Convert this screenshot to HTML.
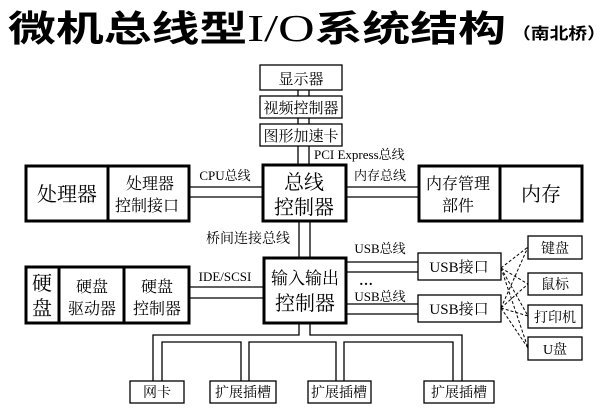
<!DOCTYPE html>
<html><head><meta charset="utf-8"><style>
html,body{margin:0;padding:0;background:#fff;}
svg{display:block;}
.t{font-family:"Liberation Serif","Noto Serif CJK SC",serif;fill:#000;}
</style></head><body>
<svg width="608" height="416" viewBox="0 0 608 416" xmlns="http://www.w3.org/2000/svg">
<text x="8" y="41" font-family="Liberation Serif,'Noto Sans CJK SC',sans-serif" font-size="36" font-weight="bold" textLength="498" lengthAdjust="spacingAndGlyphs">微机总线型<tspan font-weight="normal" font-size="38">I/O</tspan>系统结构</text>
<text x="512" y="39" font-family="Liberation Serif,'Noto Sans CJK SC',sans-serif" font-size="16" font-weight="bold" textLength="94" lengthAdjust="spacingAndGlyphs">（南北桥）</text>

<g fill="none" stroke="#000" stroke-width="1.3">
<rect x="260" y="65" width="82" height="25"/>
<rect x="260" y="96" width="82" height="22"/>
<rect x="260" y="124" width="82" height="22"/>
<line x1="298" y1="90" x2="298" y2="96"/><line x1="309" y1="90" x2="309" y2="96"/>
<line x1="298" y1="118" x2="298" y2="124"/><line x1="309" y1="118" x2="309" y2="124"/>
<line x1="298" y1="146" x2="298" y2="165"/><line x1="309" y1="146" x2="309" y2="165"/>
<line x1="299" y1="221" x2="299" y2="258"/><line x1="310" y1="221" x2="310" y2="258"/>
<line x1="189" y1="187" x2="263" y2="187"/><line x1="189" y1="197" x2="263" y2="197"/>
<line x1="346" y1="187" x2="419" y2="187"/><line x1="346" y1="197" x2="419" y2="197"/>
<line x1="189" y1="287" x2="264" y2="287"/><line x1="189" y1="298" x2="264" y2="298"/>
<line x1="346" y1="262" x2="418" y2="262"/><line x1="346" y1="272" x2="418" y2="272"/>
<line x1="346" y1="304" x2="418" y2="304"/><line x1="346" y1="314" x2="418" y2="314"/>
<rect x="528" y="236" width="54" height="23"/>
<rect x="528" y="273" width="54" height="22"/>
<rect x="528" y="305" width="54" height="23"/>
<rect x="528" y="337" width="54" height="23"/>
<rect x="418" y="253" width="83" height="27"/>
<rect x="418" y="295" width="83" height="27"/>
<polyline points="299,323 299,335 153,335 153,381"/>
<polyline points="310,323 310,335 462,335 462,381"/>
<polyline points="162,381 162,342 241,342 241,381"/>
<polyline points="249,381 249,342 336,342 336,381"/>
<polyline points="344,381 344,342 453,342 453,381"/>
<rect x="130" y="381" width="54" height="22"/>
<rect x="210" y="381" width="66" height="22"/>
<rect x="308" y="381" width="63" height="22"/>
<rect x="424" y="381" width="70" height="22"/>
</g>
<g fill="none" stroke="#000" stroke-width="1" stroke-dasharray="3,2">
<line x1="501" y1="268" x2="528" y2="247"/><line x1="501" y1="268" x2="528" y2="284"/>
<line x1="501" y1="268" x2="528" y2="316"/><line x1="501" y1="268" x2="528" y2="348"/>
<line x1="501" y1="308" x2="528" y2="247"/><line x1="501" y1="308" x2="528" y2="284"/>
<line x1="501" y1="308" x2="528" y2="316"/><line x1="501" y1="308" x2="528" y2="348"/>
</g>
<g fill="none" stroke="#000" stroke-width="3">
<rect x="26" y="166" width="163" height="55"/>
<line x1="108" y1="166" x2="108" y2="221"/>
<rect x="263" y="165" width="83" height="56"/>
<rect x="419" y="166" width="163" height="55"/>
<line x1="500" y1="166" x2="500" y2="221"/>
<rect x="26" y="267" width="163" height="56"/>
<line x1="59" y1="267" x2="59" y2="323"/>
<line x1="124" y1="267" x2="124" y2="323"/>
<rect x="264" y="258" width="82" height="65"/>
</g>

<g class="t" text-anchor="middle">
<text x="301" y="84" font-size="15">显示器</text>
<text x="301" y="113" font-size="15">视频控制器</text>
<text x="301" y="141" font-size="15">图形加速卡</text>
<text x="314" y="159" font-size="13" text-anchor="start">PCI Express总线</text>
<text x="67" y="201" font-size="20">处理器</text>
<text x="150" y="189" font-size="16">处理器</text>
<text x="147" y="211" font-size="16">控制接口</text>
<text x="304" y="189" font-size="20">总线</text>
<text x="304" y="214" font-size="20">控制器</text>
<text x="458" y="189" font-size="16">内存管理</text>
<text x="458" y="211" font-size="16">部件</text>
<text x="541" y="201" font-size="20">内存</text>
<text x="225" y="180" font-size="13">CPU总线</text>
<text x="380" y="180" font-size="13">内存总线</text>
<text x="248" y="243" font-size="14">桥间连接总线</text>
<text x="42" y="290" font-size="20">硬</text>
<text x="42" y="315" font-size="20">盘</text>
<text x="92" y="292" font-size="16">硬盘</text>
<text x="92" y="314" font-size="16">驱动器</text>
<text x="157" y="292" font-size="16">硬盘</text>
<text x="157" y="314" font-size="16">控制器</text>
<text x="225" y="281" font-size="13">IDE/SCSI</text>
<text x="305" y="284" font-size="17">输入输出</text>
<text x="305" y="310" font-size="20">控制器</text>
<text x="380" y="253" font-size="13">USB总线</text>
<text x="366" y="285" font-size="14" font-weight="bold">…</text>
<text x="380" y="301" font-size="13">USB总线</text>
<text x="459" y="272" font-size="15">USB接口</text>
<text x="459" y="314" font-size="15">USB接口</text>
<text x="555" y="253" font-size="14">键盘</text>
<text x="555" y="289" font-size="14">鼠标</text>
<text x="555" y="322" font-size="14">打印机</text>
<text x="555" y="354" font-size="14">U盘</text>
<text x="157" y="397" font-size="14">网卡</text>
<text x="243" y="397" font-size="14">扩展插槽</text>
<text x="339" y="397" font-size="14">扩展插槽</text>
<text x="459" y="397" font-size="14">扩展插槽</text>
</g>
</svg>
</body></html>
